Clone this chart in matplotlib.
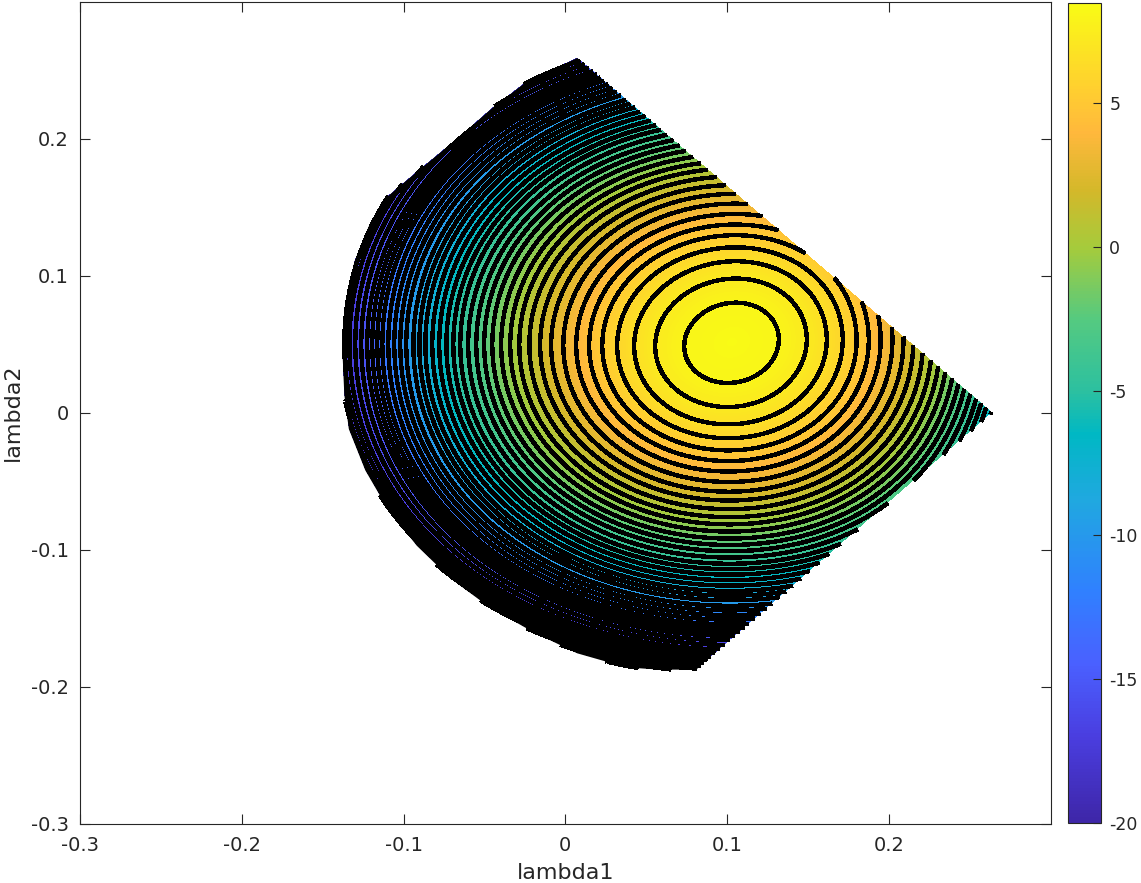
import numpy as np
import matplotlib
matplotlib.use('Agg')
import matplotlib.pyplot as plt
from matplotlib.colors import LinearSegmentedColormap
from matplotlib.patches import Polygon
from matplotlib.path import Path

# contour levels, innermost ring first
ring_levels = [8.0, 7.3, 6.6, 5.9, 5.2, 4.5, 3.8, 3.1, 2.4, 1.7, 1.0, 0.3, -0.4, -1.1, -1.8, -2.5, -3.2, -3.9, -4.6, -5.3,
               -6.0, -6.7, -7.4, -8.1, -8.8, -9.5, -10.2, -10.9, -11.6, -12.3, -13.0, -13.7, -14.4, -15.1, -15.8,
               -16.5, -17.2, -17.9, -18.6, -19.3, -20.0, -20.7, -21.4, -22.1, -22.8, -23.5]
# where each ring crosses lambda2 = 0.05 on the left side (last ones lie past the edge there)
ring_left = [0.0735, 0.0556, 0.0426, 0.0321, 0.0229, 0.0148, 0.0068, -0.0012, -0.0087, -0.0155, -0.0222, -0.0284,
             -0.0340, -0.0396, -0.0451, -0.0501, -0.0550, -0.0600, -0.0649, -0.0692, -0.0735, -0.0779, -0.0822,
             -0.0865, -0.0902, -0.0939, -0.0983, -0.1020, -0.1057, -0.1094, -0.1131, -0.1162, -0.1193, -0.1224,
             -0.1261, -0.1298, -0.1335, -0.1366, -0.1397, -0.1425, -0.1450, -0.1475, -0.1500, -0.1525, -0.1550, -0.1575]
peak_x = 0.103
peak_y = 0.0511
peak_value = 8.4
tilt = 0.13

# outline of the feasible region
region_x = [0.2639, 0.0074, -0.0241, -0.0451, -0.0655, -0.0902, -0.1014, -0.1100, -0.1211, -0.1304, -0.1360, -0.1378,
            -0.1366, -0.1338, -0.1236, -0.1095, -0.0918, -0.0708, -0.0468, -0.0204, 0.0074, 0.0379, 0.0581, 0.0810]
region_y = [0.0, 0.2591, 0.2416, 0.2226, 0.2015, 0.1774, 0.1664, 0.1577, 0.1372, 0.1102, 0.0752, 0.0460,
            0.0131, -0.0119, -0.0421, -0.0707, -0.0971, -0.1211, -0.1421, -0.1598, -0.1757, -0.1860, -0.1876, -0.1876]

xticks = [-0.3, -0.2, -0.1, 0, 0.1, 0.2]
yticks = [-0.3, -0.2, -0.1, 0, 0.1, 0.2]
tick_labels = ['-0.3', '-0.2', '-0.1', '0', '0.1', '0.2']
cbar_ticks = [-20, -15, -10, -5, 0, 5]
# colorbar read from bottom to top
cmap_stops = [0, 0.105, 0.193, 0.281, 0.393, 0.474, 0.527, 0.615, 0.702, 0.773, 0.843, 0.896, 1]
cmap_colors = ['#3e26a8', '#4a3ee0', '#4a60ff', '#3080ff', '#20a8e0', '#00b8c4', '#2cc0a0', '#55ca80',
               '#a5cb3c', '#d4b82a', '#ffb83c', '#ffcf30', '#f9fb15']

cmap = LinearSegmentedColormap.from_list('parula', list(zip(cmap_stops, cmap_colors)), N=256)

xs = np.linspace(-0.3, 0.3, 1942)
ys = np.linspace(-0.3, 0.3, 1644)
xx, yy = np.meshgrid(xs, ys)
u = xx - peak_x
v = yy - peak_y
# the slant is only seen on the inner rings
v = v - tilt * u / (1 + (np.hypot(u, v) / 0.04) ** 2)
# rings are a bit tighter to the right and above/below than on the left
u = np.where(u > 0, u * (1 + 0.5 * u), u)
v = v * (1 + 0.25 * np.abs(v))
r = np.hypot(u, v)
radii = [0.0] + [peak_x - x for x in ring_left]
z = np.interp(r, radii, [peak_value] + ring_levels)
inside = Path(np.column_stack([region_x, region_y])).contains_points(np.column_stack([xx.ravel(), yy.ravel()]))
z = np.ma.masked_where(~inside.reshape(xx.shape), z)

W, H = 1141, 883
fig = plt.figure(figsize=(W / 100, H / 100), dpi=100)
ax = fig.add_axes([80 / W, 1 - 823.5 / H, 970.5 / W, 821.5 / H])
im = ax.imshow(z, origin='lower', extent=[-0.3, 0.3, -0.3, 0.3], cmap=cmap, vmin=-20, vmax=8.47,
               aspect='auto', interpolation='nearest')
ax.contour(xx, yy, z, levels=sorted(ring_levels), colors='k', linewidths=2.4, linestyles='solid', antialiased=False)

# dense contours merge into solid black along the curved edge
clip = Polygon(np.column_stack([region_x, region_y]), closed=True, transform=ax.transData)
edge, = ax.plot(region_x[1:], region_y[1:], color='k', lw=6, antialiased=False)
edge.set_clip_path(clip)

ax.set_xlim(-0.3, 0.3)
ax.set_ylim(-0.3, 0.3)
ax.set_xticks(xticks)
ax.set_yticks(yticks)
ax.set_xticklabels(tick_labels)
ax.set_yticklabels(tick_labels)
ax.tick_params(direction='in', top=True, right=True, length=7, width=0.8, labelsize=14, colors='#262626')
ax.tick_params(axis='x', pad=9)
ax.tick_params(axis='y', pad=8)
ax.set_xlabel('lambda1', fontsize=16, color='#262626', labelpad=6)
ax.set_ylabel('lambda2', fontsize=16, color='#262626', labelpad=6)
for s in ax.spines.values():
    s.set_linewidth(0.8)
    s.set_color('#262626')

cax = fig.add_axes([1068 / W, 1 - 823 / H, 33 / W, 820 / H])
cb = fig.colorbar(im, cax=cax)
cb.set_ticks(cbar_ticks)
cb.set_ticklabels([str(t) for t in cbar_ticks])
cax.tick_params(direction='in', length=6, width=0.8, labelsize=12.5, colors='#262626', pad=6)
cb.outline.set_linewidth(0.8)
cb.outline.set_edgecolor('#262626')

fig.savefig('out.png', dpi=100)
